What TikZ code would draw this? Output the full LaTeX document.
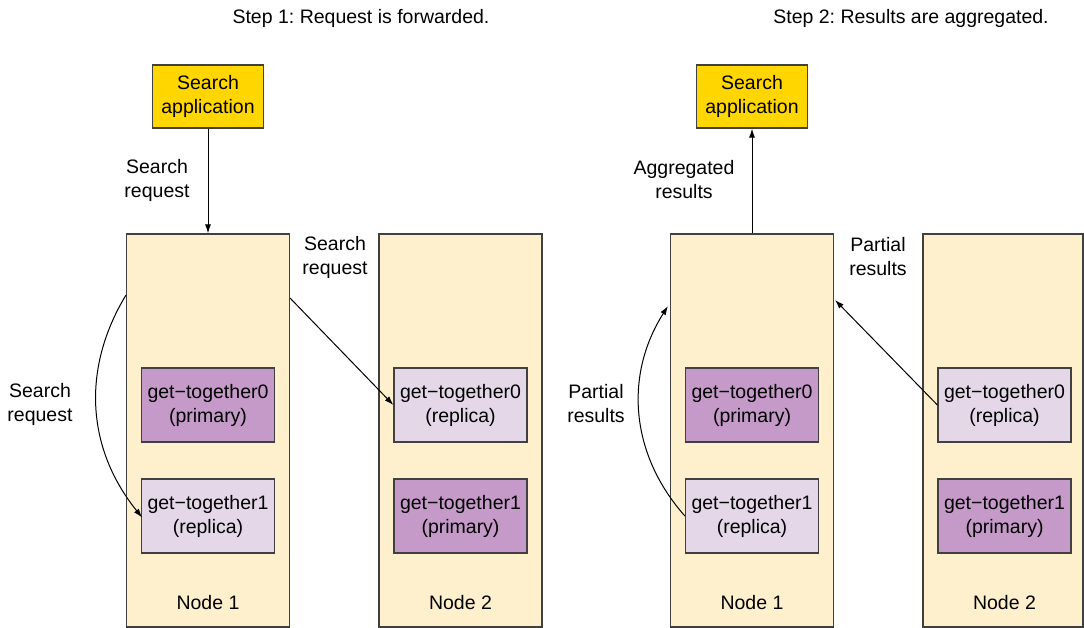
\documentclass[tikz,border=0pt]{standalone}
\usepackage{fontspec}
\setmainfont{Liberation Sans}
\usepackage{tikz}
\usetikzlibrary{arrows.meta}
\definecolor{appyellow}{RGB}{255,214,0}
\definecolor{nodetan}{RGB}{255,240,205}
\definecolor{primpurple}{RGB}{197,153,200}
\definecolor{replpurple}{RGB}{228,216,232}
\definecolor{edgegray}{RGB}{64,64,64}
\frenchspacing

\begin{document}
\begin{tikzpicture}[x=1pt, y=-1pt, font=\fontsize{19.5}{24}\selectfont,
    app/.style={draw=edgegray, line width=1.2pt, fill=appyellow, minimum width=111pt, minimum height=63pt, align=center, inner sep=0},
    esnode/.style={draw=edgegray, line width=1.2pt, fill=nodetan, minimum width=163pt, minimum height=393pt, inner sep=0},
    primary/.style={draw=edgegray, line width=1.2pt, fill=primpurple, minimum width=133pt, minimum height=74pt, align=center, inner sep=0},
    replica/.style={primary, fill=replpurple},
    lbl/.style={align=center, inner sep=0},
    arr/.style={-{Latex[length=9pt,width=6pt]}, line width=1pt}]
      \useasboundingbox (0,0) rectangle (1084,627);
      % step 1
      \node [lbl] (title1) at (361,18) {Step 1: Request is forwarded.};
      \node [app] (app1) at (208,96.5) {Search\\application};
      \node [esnode] (node1a) at (208,430.5) {};
      \node [esnode] (node2a) at (460.5,430.5) {};
      \node [primary] (prim0a) at (208,405) {get−together0\\(primary)};
      \node [replica] (repl1a) at (208,516) {get−together1\\(replica)};
      \node [replica] (repl0a) at (460.5,405) {get−together0\\(replica)};
      \node [primary] (prim1a) at (460.5,516) {get−together1\\(primary)};
      \node [lbl] (name1a) at (208,603) {Node 1};
      \node [lbl] (name2a) at (460.5,603) {Node 2};
      \node [lbl] (req1) at (157,180) {Search\\request};
      \node [lbl] (req2) at (40,404) {Search\\request};
      \node [lbl] (req3) at (335,257) {Search\\request};
      \coordinate (fwd1) at (126,295);
      \coordinate (fwd2) at (290,298);
      \draw [arr] (app1.south) -- (node1a.north);
      \draw [arr, shorten >=-2pt] (fwd1) to[bend right=35] (repl1a.west);
      \draw [arr] (fwd2) -- (repl0a.west);
      % step 2
      \node [lbl] (title2) at (911,18) {Step 2: Results are aggregated.};
      \node [app] (app2) at (752,96.5) {Search\\application};
      \node [esnode] (node1b) at (752,430.5) {};
      \node [esnode, minimum width=160pt] (node2b) at (1003,430.5) {};
      \node [primary] (prim0b) at (752,405) {get−together0\\(primary)};
      \node [replica] (repl1b) at (752,516) {get−together1\\(replica)};
      \node [replica] (repl0b) at (1004.5,405) {get−together0\\(replica)};
      \node [primary] (prim1b) at (1004.5,516) {get−together1\\(primary)};
      \node [lbl] (name1b) at (752,603) {Node 1};
      \node [lbl] (name2b) at (1004.5,603) {Node 2};
      \node [lbl] (agg) at (684,180) {Aggregated\\results};
      \node [lbl] (part1) at (596,404) {Partial\\results};
      \node [lbl] (part2) at (878,257) {Partial\\results};
      \coordinate (back1) at (668,306);
      \coordinate (back2) at (835,300);
      \draw [arr] (node1b.north) -- (app2.south);
      \draw [arr] (repl1b.west) to[bend left=37] (back1);
      \draw [arr] (repl0b.west) -- (back2);
\end{tikzpicture}
\end{document}
